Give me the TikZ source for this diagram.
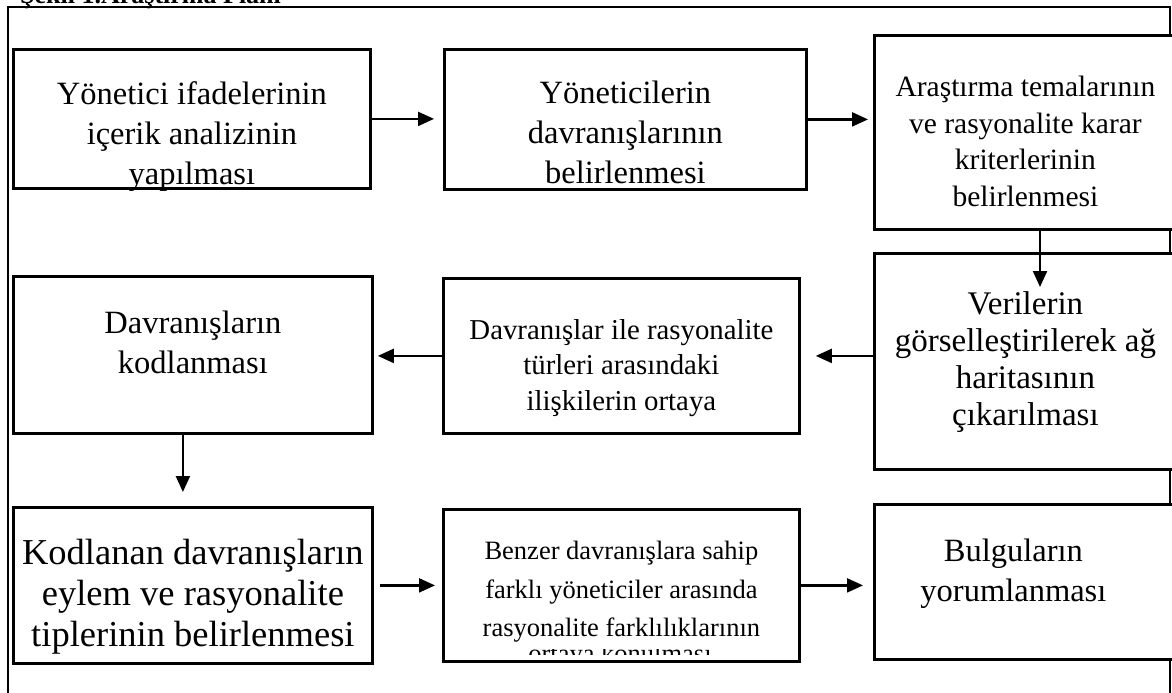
\documentclass[tikz,border=0pt]{standalone}
\usepackage{fontspec}
\setmainfont{Liberation Serif}
\usetikzlibrary{arrows.meta}
\newcommand{\kutuyazi}[4]{\parbox[c][#2][t]{#1}{\centering\vspace*{#3}#4}}

\begin{document}
\begin{tikzpicture}
        [x=1pt, y=-1pt, every node/.style={inner sep=0pt}, kutu/.style={draw, fill=white, line width=2.8pt, anchor=north west}, ok/.style={line width=2.2pt, -{Triangle[length=16pt,width=14pt]}}]

        \useasboundingbox (0,0) rectangle (1172,693);
        \node[anchor=base west, font=\bfseries\fontsize{26}{30}\selectfont] (baslik) at (20,4) {Şekil 1.Araştırma Planı};
        \draw[line width=2pt] (8,7) rectangle (1170,720);

        \node[kutu, font=\fontsize{32.5}{40}\selectfont] (ifade) at (12,48) {\kutuyazi{357pt}{139pt}{32pt}{Yönetici ifadelerinin\\içerik analizinin\\yapılması}};
        \node[kutu, font=\fontsize{32.5}{40}\selectfont] (davran) at (443,48) {\kutuyazi{362pt}{140pt}{32pt}{Yöneticilerin\\davranışlarının\\belirlenmesi}};
        \node[kutu, font=\fontsize{29.5}{36.5}\selectfont] (tema) at (873,34) {\kutuyazi{302pt}{194pt}{41pt}{Araştırma temalarının\\ve rasyonalite karar\\kriterlerinin\\belirlenmesi}};
        \node[kutu, font=\fontsize{32.5}{40}\selectfont] (kod) at (12,275) {\kutuyazi{359pt}{157pt}{35pt}{Davranışların\\kodlanması}};
        \node[kutu, font=\fontsize{28.8}{35.5}\selectfont] (iliski) at (442,277) {\kutuyazi{356pt}{155pt}{41pt}{Davranışlar ile rasyonalite\\türleri arasındaki\\ilişkilerin ortaya}};
        \node[kutu, font=\fontsize{33}{37}\selectfont] (veri) at (873,252) {\kutuyazi{302pt}{216pt}{38pt}{Verilerin\\görselleştirilerek ağ\\haritasının\\çıkarılması}};
        \node[kutu, font=\fontsize{36.5}{41}\selectfont] (tip) at (12,506) {\kutuyazi{359pt}{156pt}{32pt}{Kodlanan davranışların\\eylem ve rasyonalite\\tiplerinin belirlenmesi}};
        \node[kutu, font=\fontsize{26.5}{38.5}\selectfont] (fark) at (442,508) {\kutuyazi{356pt}{152pt}{32pt}{Benzer davranışlara sahip\\farklı yöneticiler arasında\\rasyonalite farklılıklarının}};
        \node[kutu, font=\fontsize{32.5}{40}\selectfont] (bulgu) at (873,503) {\kutuyazi{302pt}{155pt}{35pt}{\hspace*{-24pt}Bulguların\\\hspace*{-24pt}yorumlanması}};

        \begin{scope}
        \clip (444,649) rectangle (796,654);
        \node[anchor=base, font=\fontsize{26.5}{38.5}\selectfont] (konulma) at (620,662) {ortaya konulması};
        \end{scope}

        \coordinate (inis) at (1040,287);

        \draw[ok, shorten >=9pt] (ifade.east) -- (ifade.east -| davran.west);
        \draw[ok, shorten >=5pt] (davran.east) -- (davran.east -| tema.west);
        \draw[ok] (tema.south -| inis) -- (inis);
        \draw[ok, shorten >=15pt] (veri.west |- iliski.east) -- (iliski.east);
        \draw[ok, shorten >=4pt] (iliski.west) -- (iliski.west -| kod.east);
        \draw[ok, shorten >=14pt] ([xshift=-10pt]kod.south) -- ([xshift=-10pt]kod.south |- tip.north);
        \draw[ok, shorten <=6pt, shorten >=7pt] (tip.east) -- (tip.east -| fark.west);
        \draw[ok, shorten >=10pt] (fark.east) -- (fark.east -| bulgu.west);
      \end{tikzpicture}
\end{document}
